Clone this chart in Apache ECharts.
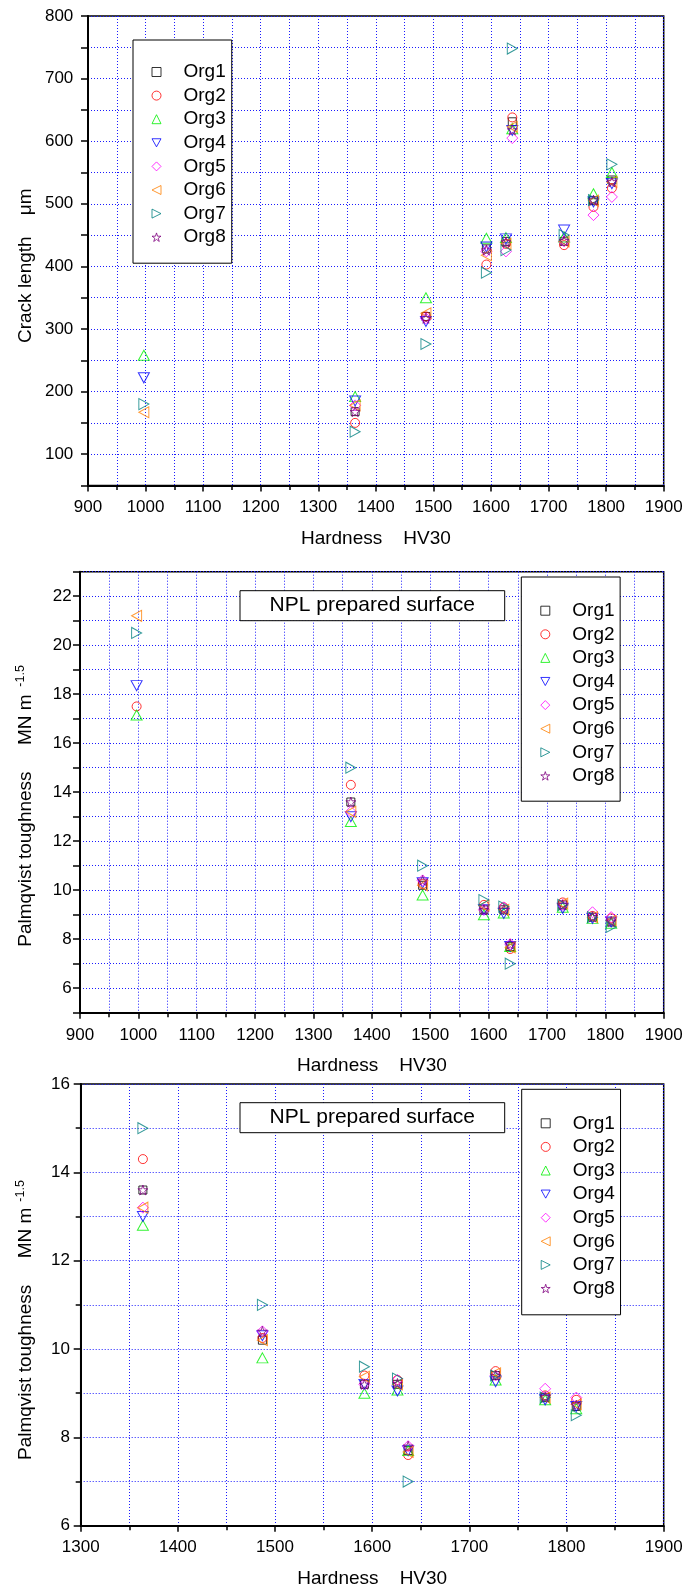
<!DOCTYPE html>
<html>
<head>
<meta charset="utf-8">
<script src="https://cdn.jsdelivr.net/npm/echarts@6/dist/echarts.min.js"></script>
<style>
  html, body { margin: 0; padding: 0; background: #fff; }
  #chart { width: 686px; height: 1593px; }
</style>
</head>
<body>
<div id="chart"></div>
<script>
// Vickers hardness (HV30) of the test pieces
const hardness = [997, 1364, 1487, 1592, 1626, 1637, 1727, 1778, 1810];
const orgNames = ['Org1', 'Org2', 'Org3', 'Org4', 'Org5', 'Org6', 'Org7', 'Org8'];

// Crack length (µm) reported by each organisation, null = not reported
const crackOrg1 = [null, 168, 320, 428, 440, 631, 440, 505, 538];
const crackOrg2 = [null, 150, 320, 403, 436, 638, 434, 495, 525];
const crackOrg3 = [258, 192, 350, 445, 446, 620, 447, 516, 550];
const crackOrg4 = [222, 185, 312, 431, 444, 617, 458, 503, 532];
const crackOrg5 = [null, 178, 317, 424, 424, 605, 440, 482, 511];
const crackOrg6 = [167, 178, 325, 418, 436, 623, 440, 505, 535];
const crackOrg7 = [180, 136, 276, 390, 426, 748, 450, 506, 563];
const crackOrg8 = [null, 168, 317, 426, 439, 618, 441, 506, 535];

// Palmqvist toughness (MN m^-1.5)
const toughOrg1 = [null, 13.6, 10.2, 9.2, 9.2, 7.7, 9.4, 8.9, 8.7];
const toughOrg2 = [17.5, 14.3, 10.25, 9.4, 9.3, 7.6, 9.5, 8.95, 8.85];
const toughOrg3 = [17.15, 12.8, 9.8, 9.0, 9.07, 7.7, 9.3, 8.85, 8.65];
const toughOrg4 = [18.35, 13.0, 10.3, 9.2, 9.05, 7.7, 9.26, 8.85, 8.7];
const toughOrg5 = [null, 13.2, 10.4, 9.2, 9.3, 7.8, 9.4, 9.1, 8.9];
const toughOrg6 = [21.2, 13.2, 10.2, 9.37, 9.2, 7.67, 9.45, 8.9, 8.75];
const toughOrg7 = [20.5, 15.0, 11.0, 9.6, 9.33, 7.0, 9.4, 8.9, 8.5];
const toughOrg8 = [null, 13.6, 10.4, 9.2, 9.22, 7.8, 9.4, 8.92, 8.73];

const crackSets = [crackOrg1, crackOrg2, crackOrg3, crackOrg4, crackOrg5, crackOrg6, crackOrg7, crackOrg8];
const toughSets = [toughOrg1, toughOrg2, toughOrg3, toughOrg4, toughOrg5, toughOrg6, toughOrg7, toughOrg8];

const FONT = '"Liberation Sans", Arial, Helvetica, sans-serif';
const colors = ['#000000', '#ff0000', '#00f000', '#0000ff', '#ff00ff', '#ff8000', '#008080', '#800080'];
const symbols = [
  'rect',
  'circle',
  'triangle',
  'path://M0,0L10,0L5,9Z',
  'diamond',
  'path://M10,0L10,10L0,5Z',
  'path://M0,0L0,10L10,5Z',
  'path://M0,-10L2.245,-3.09L9.511,-3.09L3.633,1.18L5.878,8.09L0,3.82L-5.878,8.09L-3.633,1.18L-9.511,-3.09L-2.245,-3.09Z'
];
const symbolSizes = [8, 9, [11, 10], [11, 10], 11, [10, 11], [10, 11], 10];

const gridLine = { color: '#1a1aff', type: [1, 2], width: 1 };

function xAxisFor(gi, min, labelMargin) {
  return {
    type: 'value', gridIndex: gi, min: min, max: 1900, interval: 100, position: 'bottom',
    axisLine: { show: true, onZero: false, lineStyle: { color: '#000', width: 2 } },
    axisTick: { show: true, inside: false, length: 6, lineStyle: { color: '#000', width: 1.5 } },
    minorTick: { show: true, splitNumber: 2, length: 4.5, lineStyle: { color: '#000', width: 1.5 } },
    splitLine: { show: true, lineStyle: gridLine },
    minorSplitLine: { show: true, lineStyle: gridLine },
    axisLabel: {
      margin: labelMargin, fontSize: 17, fontFamily: FONT, color: '#000',
      formatter: function (v) { return String(v); }
    }
  };
}

function yAxisFor(gi, min, max, step, labelStep, labelMargin) {
  return {
    type: 'value', gridIndex: gi, min: min, max: max, interval: step, position: 'left',
    axisLine: { show: true, onZero: false, lineStyle: { color: '#000', width: 2 } },
    axisTick: { show: true, inside: false, length: 7, lineStyle: { color: '#000', width: 1.5 } },
    splitLine: { show: true, lineStyle: gridLine },
    axisLabel: {
      margin: labelMargin, fontSize: 17, fontFamily: FONT, color: '#000',
      formatter: function (v) { return Math.abs(v % labelStep) < 1e-9 ? String(v) : ''; }
    }
  };
}

function legendFor(left, top, padding) {
  return {
    orient: 'vertical', left: left, top: top, data: orgNames,
    itemWidth: 9, itemHeight: 9, itemGap: 4.6, padding: padding,
    borderColor: '#000', borderWidth: 1, backgroundColor: '#fff',
    selectedMode: false,
    itemStyle: { borderWidth: 1 },
    formatter: function (n) { return '{a|' + n + '}'; },
    textStyle: {
      fontSize: 19, fontFamily: FONT, color: '#000', lineHeight: 19,
      rich: { a: { fontSize: 19, fontFamily: FONT, color: '#000', lineHeight: 19, padding: [0, 0, 0, 17.5] } }
    }
  };
}

function seriesFor(gi, sets, minX) {
  return orgNames.map(function (name, i) {
    const pts = [];
    hardness.forEach(function (h, k) {
      const v = sets[i][k];
      if (v !== null && h >= minX) pts.push([h, v]);
    });
    return {
      type: 'scatter', name: name, xAxisIndex: gi, yAxisIndex: gi,
      symbol: symbols[i], symbolSize: symbolSizes[i],
      itemStyle: { color: 'rgba(0,0,0,0)', borderColor: colors[i], borderWidth: 1 },
      emphasis: { disabled: true },
      data: pts
    };
  });
}

function rotatedText(x, y, text, size) {
  return {
    type: 'text', x: x, y: y, rotation: Math.PI / 2, z: 20,
    style: {
      text: text, fontSize: size, fontFamily: FONT, fill: '#000',
      align: 'left', verticalAlign: 'middle', textAlign: 'left', textVerticalAlign: 'middle'
    }
  };
}

function plainText(x, y, text, size) {
  return {
    type: 'text', x: x, y: y, z: 20,
    style: {
      text: text, fontSize: size, fontFamily: FONT, fill: '#000',
      align: 'center', verticalAlign: 'middle', textAlign: 'center', textVerticalAlign: 'middle'
    }
  };
}

function noteBox(top) {
  return [
    { type: 'rect', z: 15, shape: { x: 240, y: top, width: 264.7, height: 30 },
      style: { fill: '#fff', stroke: '#000', lineWidth: 1 } },
    plainText(372.3, top + 15, 'NPL prepared surface', 21)
  ];
}

const gridBox = { show: true, borderColor: '#000', borderWidth: 1.5, backgroundColor: 'transparent' };

const option = {
  animation: false,
  backgroundColor: '#fff',
  grid: [
    Object.assign({ left: 88, top: 16, width: 575.7, height: 469.5 }, gridBox),
    Object.assign({ left: 80, top: 571.7, width: 583.7, height: 441 }, gridBox),
    Object.assign({ left: 80.7, top: 1084, width: 583, height: 441.7 }, gridBox)
  ],
  xAxis: [
    xAxisFor(0, 900, 13),
    xAxisFor(1, 900, 14.5),
    xAxisFor(2, 1300, 13)
  ],
  yAxis: [
    yAxisFor(0, 50, 800, 50, 100, 14.7),
    yAxisFor(1, 5, 23, 1, 2, 8.3),
    Object.assign(yAxisFor(2, 6, 16, 2, 2, 10.7), {
      minorTick: { show: true, splitNumber: 2, length: 5, lineStyle: { color: '#000', width: 1.5 } },
      minorSplitLine: { show: true, lineStyle: gridLine }
    })
  ],
  legend: [
    legendFor(133, 40, [22.5, 6, 16.5, 18.5]),
    legendFor(521.3, 577, [24.2, 5.6, 15.8, 19]),
    legendFor(521.7, 1089.3, [24.5, 5.6, 16.8, 19])
  ],
  series: [].concat(
    seriesFor(0, crackSets, 0),
    seriesFor(1, toughSets, 0),
    seriesFor(2, toughSets, 1300)
  ),
  graphic: [].concat(
    [
      rotatedText(26, 343, 'Crack length    \u03bcm', 19),
      plainText(375.9, 538.3, 'Hardness    HV30', 19),
      rotatedText(26, 946.7, 'Palmqvist toughness     MN m', 19),
      rotatedText(21, 686.7, '-1.5', 12.5),
      plainText(371.9, 1066, 'Hardness    HV30', 19),
      rotatedText(26, 1460, 'Palmqvist toughness     MN m', 19),
      rotatedText(21, 1201.7, '-1.5', 12.5),
      plainText(372.2, 1578.3, 'Hardness    HV30', 19)
    ],
    noteBox(590.7),
    noteBox(1102.7)
  )
};

const chart = echarts.init(document.getElementById('chart'), null, { renderer: 'canvas' });
chart.setOption(option);
</script>
</body>
</html>
